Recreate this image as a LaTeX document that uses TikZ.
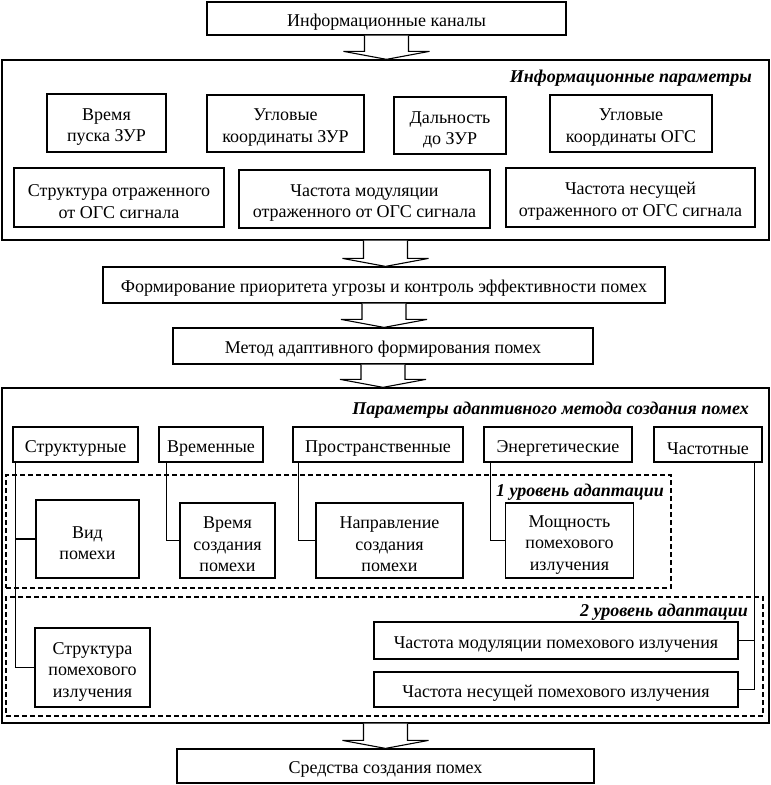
\documentclass[tikz,border=0pt]{standalone}
\usepackage{fontspec}
\setmainfont{Liberation Serif}
\usetikzlibrary{calc}
\newcommand\blockarr[2]{%
  \draw[barrow] ($(#1.south)+(-22,0)$) -- ($(#1.south |- #2.north)+(-22,-8)$) -- ($(#1.south |- #2.north)+(-43,-8)$) -- (#1.south |- #2.north) -- ($(#1.south |- #2.north)+(43,-8)$) -- ($(#1.south |- #2.north)+(22,-8)$) -- ($(#1.south)+(22,0)$);}
\newcommand\st{\rule{0pt}{20pt}}
\begin{document}
\begin{tikzpicture}[x=1pt,y=-1pt,
  box/.style={draw, line width=1.2pt, fill=white, align=center, inner sep=2pt, font=\fontsize{18}{21.5}\selectfont, execute at begin node={\rule{0pt}{19.5pt}}},
  bigbox/.style={draw, line width=1.3pt},
  ttl/.style={font=\fontsize{18}{21}\selectfont\bfseries\itshape, inner sep=0pt},
  dbox/.style={draw, line width=1.4pt, dash pattern=on 5pt off 3pt},
  conn/.style={line width=1.1pt},
  barrow/.style={draw, line width=1.1pt, fill=white}]
\useasboundingbox (0,0) rectangle (771,785);
% top
\node[box, minimum width=359pt, minimum height=33pt] (kan) at (386.5,18.5) {Информационные каналы};
\node[bigbox, minimum width=767pt, minimum height=180pt] (big1) at (385.5,150) {};
\node[ttl, anchor=east] (t1) at (752,78) {Информационные параметры};
\node[box, minimum width=119pt, minimum height=58pt] (b1) at (106.5,123) {\st Время\\пуска ЗУР};
\node[box, minimum width=157pt, minimum height=57pt] (b2) at (285.5,123.5) {\st Угловые\\координаты ЗУР};
\node[box, minimum width=112pt, minimum height=57pt] (b3) at (450,125.5) {\st Дальность\\до ЗУР};
\node[box, minimum width=162pt, minimum height=57pt] (b4) at (631,123.5) {\st Угловые\\координаты ОГС};
\node[box, minimum width=210pt, minimum height=59pt] (b5) at (119,197.5) {\st Структура отраженного\\от ОГС сигнала};
\node[box, minimum width=251pt, minimum height=58pt] (b6) at (364.5,199) {\st Частота модуляции\\отраженного от ОГС сигнала};
\node[box, minimum width=249pt, minimum height=59pt] (b7) at (630.5,197.5) {\st Частота несущей\\отраженного от ОГС сигнала};
\node[box, minimum width=562pt, minimum height=36pt] (form) at (384,285) {Формирование приоритета угрозы и контроль эффективности помех};
\node[box, minimum width=420pt, minimum height=36pt] (metod) at (383,346) {Метод адаптивного формирования помех};
% big 2
\node[bigbox, minimum width=767pt, minimum height=335pt] (big2) at (385.5,555.5) {};
\node[ttl, anchor=east] (t2) at (749,410) {Параметры адаптивного метода создания помех};
\node[dbox, minimum width=665pt, minimum height=113pt] (lev1) at (338.5,531.5) {};
\node[dbox, minimum width=757pt, minimum height=119pt] (lev2) at (384.5,656.5) {};
\node[ttl, anchor=east] (t3) at (664,492) {1 уровень адаптации};
\node[ttl, anchor=east] (t4) at (748,612) {2 уровень адаптации};
\node[box, minimum width=125pt, minimum height=35pt] (p1) at (75.5,444.5) {Структурные};
\node[box, minimum width=104pt, minimum height=35pt] (p2) at (211,444.5) {Временные};
\node[box, minimum width=170pt, minimum height=35pt] (p3) at (378,444.5) {Пространственные};
\node[box, minimum width=148pt, minimum height=35pt] (p4) at (558,444.5) {Энергетические};
\node[box, minimum width=108pt, minimum height=35pt] (p5) at (708,444.5) {Частотные};
\node[box, minimum width=103pt, minimum height=78pt] (l1) at (87.5,539) {\st Вид\\помехи};
\node[box, minimum width=95pt, minimum height=75pt] (l2) at (227.5,540.5) {\st Время\\создания\\помехи};
\node[box, minimum width=147pt, minimum height=75pt] (l3) at (389.5,540.5) {\st Направление\\создания\\помехи};
\node[box, minimum width=128pt, minimum height=75pt] (l4) at (569.5,540.5) {\st Мощность\\помехового\\излучения};
\node[box, minimum width=115pt, minimum height=79pt] (s1) at (92.5,667.5) {\st Структура\\помехового\\излучения};
\node[box, minimum width=364pt, minimum height=37pt] (s2) at (556,640.5) {Частота модуляции помехового излучения};
\node[box, minimum width=364pt, minimum height=35pt] (s3) at (556,689.5) {Частота несущей помехового излучения};
\node[box, minimum width=417pt, minimum height=34pt] (sred) at (385.5,766) {Средства создания помех};
% connectors
\draw[conn] ($(p1.south west)+(3,0)$) |- (l1.west);
\draw[conn] ($(p1.south west)+(3,0)$) |- (s1.west);
\draw[conn] ($(p2.south west)+(8,0)$) |- (l2.west);
\draw[conn] ($(p3.south west)+(6,0)$) |- (l3.west);
\draw[conn] ($(p4.south west)+(7,0)$) |- (l4.west);
\draw[conn] ($(p5.south east)+(-8,0)$) |- (s2.east);
\draw[conn] ($(p5.south east)+(-8,0)$) |- (s3.east);
% block arrows
\blockarr{kan}{big1}
\blockarr{big1}{form}
\blockarr{form}{metod}
\blockarr{metod}{big2}
\blockarr{big2}{sred}
\end{tikzpicture}
\end{document}
